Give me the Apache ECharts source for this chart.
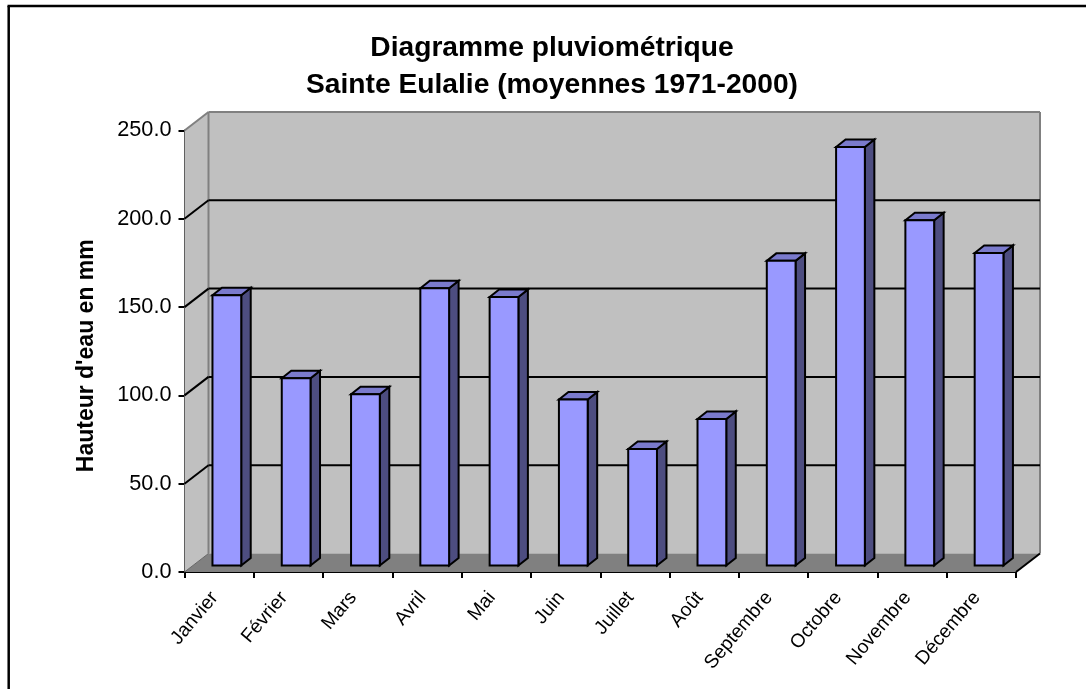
<!DOCTYPE html>
<html><head><meta charset="utf-8">
<style>html,body{margin:0;padding:0;background:#fff}#c{width:1086px;height:689px}</style>
<script src="https://cdn.jsdelivr.net/npm/echarts@6/dist/echarts.min.js"></script>
</head><body><div id="c"></div>
<script>
var months = ['Janvier','Février','Mars','Avril','Mai','Juin','Juillet','Août','Septembre','Octobre','Novembre','Décembre'];
var rainfall = [153,106,97,157,152,94,66,83,172.5,237,195.5,177];
var yTicks = [50,100,150,200];
var titleLines = 'Diagramme pluviométrique\nSainte Eulalie (moyennes 1971-2000)';
var yName = "Hauteur d'eau en mm";

var DX = 24, DY = -18.5;          // depth of the plot box
var BX = 7.7, BY = -6.5;          // bar front offset into the box
var SX = 9.5, SY = -7.5;          // bar own depth

function poly(points, fill, stroke, lw){
  return {type:'polygon', shape:{points:points}, style:{fill:fill, stroke:stroke||null, lineWidth:lw||0, lineJoin:'miter'}};
}
function line(a,b,color,lw){
  return {type:'line', shape:{x1:a[0],y1:a[1],x2:b[0],y2:b[1]}, style:{stroke:color,lineWidth:lw,fill:null}};
}
function renderBox(params, api){
  var cs = params.coordSys, L = cs.x, R = cs.x+cs.width, T = cs.y, B = cs.y+cs.height;
  return {type:'group', children:[
    poly([[L+DX,T+DY],[R+DX,T+DY],[R+DX,B+DY],[L+DX,B+DY]],'#C0C0C0'),
    poly([[L,T],[L+DX,T+DY],[L+DX,B+DY],[L,B]],'#C0C0C0'),
    poly([[L,B],[L+DX,B+DY],[R+DX,B+DY],[R,B]],'#808080'),
    line([L,T],[L+DX,T+DY],'#808080',2),
    line([L+DX,T+DY],[R+DX,T+DY],'#808080',2),
    line([L+DX,T+DY],[L+DX,B+DY],'#808080',2),
    line([R+DX,T+DY],[R+DX,B+DY],'#808080',2),
    line([L,B],[L+DX,B+DY],'#666666',1)
  ]};
}
function renderGrid(params, api){
  var cs = params.coordSys, L = cs.x, R = cs.x+cs.width;
  var y = api.coord([0, api.value(0)])[1];
  return {type:'group', children:[
    line([L,y],[L+DX,y+DY],'#000',2),
    line([L+DX,y+DY],[R+DX,y+DY],'#000',2)
  ]};
}
function renderEdge(params, api){
  var cs = params.coordSys, R = cs.x+cs.width, B = cs.y+cs.height;
  return line([R,B],[R+DX,B+DY],'#000',2);
}
function renderBar(params, api){
  var x = api.coord([api.value(0),0])[0]+BX;
  var y0 = api.coord([0,0])[1]+BY, y1 = api.coord([0,api.value(1)])[1]+BY;
  var w = api.size([1,0])[0]*0.415, l = x-w/2, r = x+w/2;
  var S = '#000';
  return {type:'group', children:[
    poly([[r,y1],[r+SX,y1+SY],[r+SX,y0+SY],[r,y0]],'#4D4D80',S,2),
    poly([[l,y1],[l+SX,y1+SY],[r+SX,y1+SY],[r,y1]],'#7A7ACC',S,2),
    poly([[l,y1],[r,y1],[r,y0],[l,y0]],'#9999FF',S,2)
  ]};
}
var chart = echarts.init(document.getElementById('c'), null, {renderer:'canvas'});
chart.setOption({
  animation:false,
  backgroundColor:'#fff',
  textStyle:{fontFamily:'Liberation Sans'},
  title:{text:titleLines,left:547,top:25,textAlign:'center',
    textStyle:{fontFamily:'Liberation Sans',fontSize:28.2,fontWeight:'bold',color:'#000',lineHeight:37}},
  grid:{left:184.5,top:130.5,width:831.5,height:441.5,containLabel:false},
  xAxis:{type:'category',data:months,boundaryGap:true,
    axisLine:{show:true,onZero:false,lineStyle:{color:'#000',width:2}},
    axisTick:{show:true,alignWithLabel:false,length:6,lineStyle:{color:'#000',width:2}},
    axisLabel:{rotate:50,fontSize:19.3,color:'#000',margin:17,interval:0,padding:[0,7,0,0],fontFamily:'Liberation Sans'},
    splitLine:{show:false}},
  yAxis:{type:'value',min:0,max:250,interval:50,
    name:yName,nameLocation:'middle',nameGap:86,nameRotate:90,
    nameTextStyle:{fontFamily:'Liberation Sans',fontSize:23,fontWeight:'bold',color:'#000',padding:[0,9,0,0]},
    axisLine:{show:true,lineStyle:{color:'#000',width:2}},
    axisTick:{show:true,length:6,lineStyle:{color:'#000',width:2}},
    axisLabel:{formatter:function(v){return v.toFixed(1);},fontSize:21.7,color:'#000',margin:13,fontFamily:'Liberation Sans'},
    splitLine:{show:false}},
  graphic:[
    {type:'line',silent:true,shape:{x1:7.5,y1:6,x2:1086,y2:6},style:{stroke:'#000',lineWidth:2.5}},
    {type:'line',silent:true,shape:{x1:8.7,y1:6,x2:8.7,y2:689},style:{stroke:'#000',lineWidth:2.5}}
  ],
  series:[
    {type:'custom',z:1,clip:false,silent:true,renderItem:renderBox,data:[0]},
    {type:'custom',z:2,clip:false,silent:true,renderItem:renderGrid,data:yTicks.map(function(v){return [v];}),encode:{y:0}},
    {type:'custom',z:2,clip:false,silent:true,renderItem:renderEdge,data:[0]},
    {type:'custom',z:3,clip:false,silent:true,renderItem:renderBar,
      data:rainfall.map(function(v,i){return [i,v];}),encode:{x:0,y:1}}
  ]
});
</script></body></html>
